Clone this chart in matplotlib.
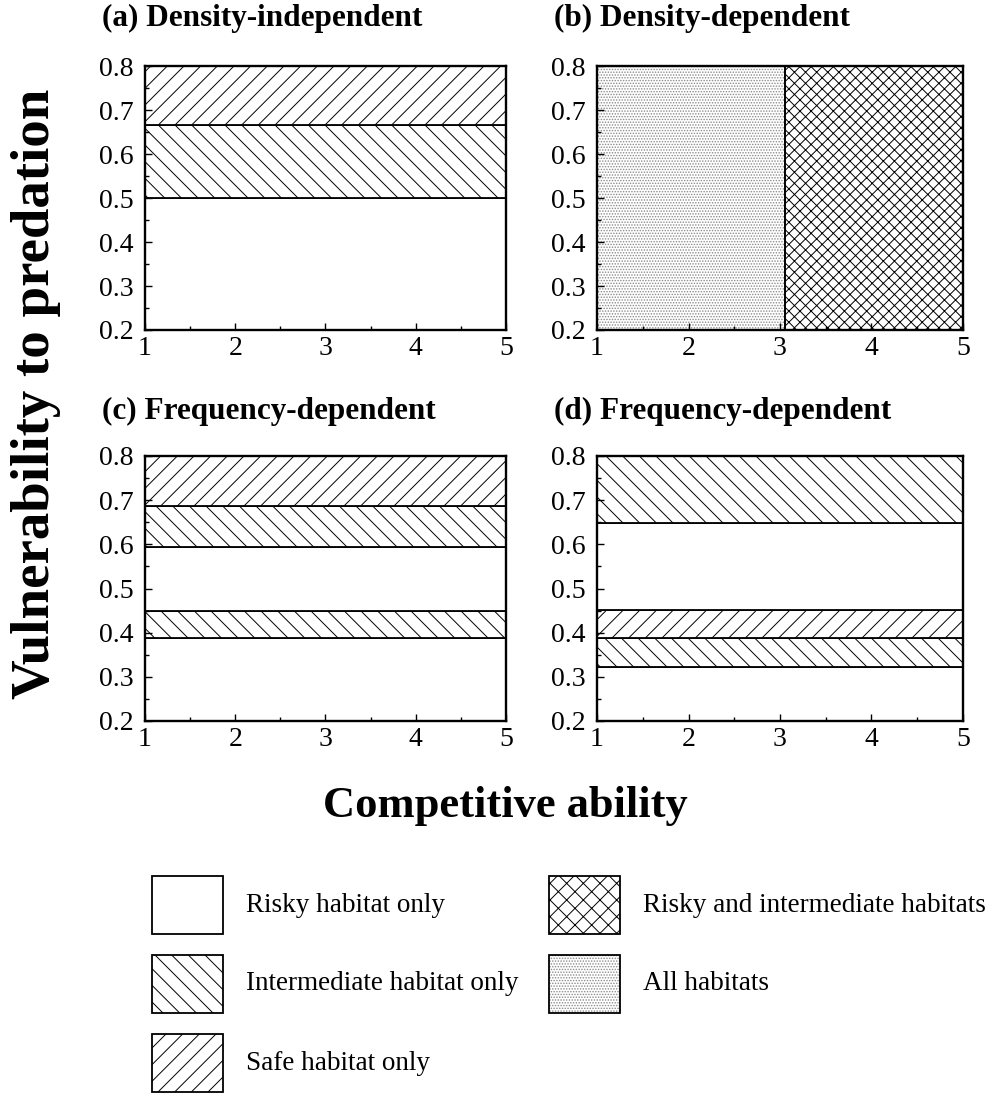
"""Habitat use vs competitive ability and vulnerability, four scenarios."""
import matplotlib
matplotlib.use("Agg")
import matplotlib.pyplot as plt
from matplotlib.patches import Rectangle
from matplotlib.ticker import MultipleLocator, FormatStrFormatter

plt.rcParams.update({"font.family": ["Liberation Serif", "DejaVu Serif"],
                     "hatch.linewidth": 0.7})

W, H = 1004, 1094

titles = ["(a) Density-independent", "(b) Density-dependent",
          "(c) Frequency-dependent", "(d) Frequency-dependent"]

# horizontal bands: boundaries (bottom -> top) and habitat used in each band
a_edges = [0.2, 0.5, 0.667, 0.8]
a_habitat = ["risky", "inter", "safe"]
c_edges = [0.2, 0.389, 0.449, 0.594, 0.686, 0.8]
c_habitat = ["risky", "inter", "risky", "inter", "safe"]
d_edges = [0.2, 0.322, 0.388, 0.451, 0.649, 0.8]
d_habitat = ["risky", "inter", "safe", "risky", "inter"]
# (b) split along competitive ability
b_edges = [1, 3.05, 5]
b_habitat = ["all", "riskinter"]

legend_keys = ["risky", "inter", "safe", "riskinter", "all"]
legend_labels = ["Risky habitat only", "Intermediate habitat only", "Safe habitat only",
                 "Risky and intermediate habitats", "All habitats"]

HATCH = {"risky": "", "inter": "\\\\", "safe": "//", "riskinter": "xxx", "all": "......"}

fig = plt.figure(figsize=(W/100, H/100), dpi=100)

# axes boxes in pixels: left, top, width, height
boxes = [(145, 66, 361, 264), (597, 66, 366, 264),
         (145, 456, 361, 265), (597, 456, 366, 265)]
title_gap = [40, 40, 37, 37]
axes = []
for (l, t, w, h) in boxes:
    ax = fig.add_axes([l/W, 1-(t+h)/H, w/W, h/H])
    axes.append(ax)

def band_panel(ax, edges, habs):
    for lo, hi, hb in zip(edges[:-1], edges[1:], habs):
        ax.axhspan(lo, hi, facecolor="white", edgecolor="black",
                   hatch=HATCH[hb], lw=1.3, zorder=1)

band_panel(axes[0], a_edges, a_habitat)
band_panel(axes[2], c_edges, c_habitat)
band_panel(axes[3], d_edges, d_habitat)

ax = axes[1]
for lo, hi, hb in zip(b_edges[:-1], b_edges[1:], b_habitat):
    if hb == "all":
        ax.axvspan(lo, hi, facecolor="white", edgecolor="#8a8a8a",
                   hatch=HATCH[hb], lw=0, zorder=1)
    else:
        ax.axvspan(lo, hi, facecolor="white", edgecolor="black",
                   hatch=HATCH[hb], lw=1.4, zorder=1)

for i, ax in enumerate(axes):
    ax.set_xlim(1, 5)
    ax.set_ylim(0.2, 0.8)
    ax.xaxis.set_major_locator(MultipleLocator(1))
    ax.xaxis.set_minor_locator(MultipleLocator(0.5))
    ax.yaxis.set_major_locator(MultipleLocator(0.1))
    ax.yaxis.set_minor_locator(MultipleLocator(0.05))
    ax.yaxis.set_major_formatter(FormatStrFormatter("%.1f"))
    ax.tick_params(which="both", direction="in", width=1, labelsize=20)
    ax.tick_params(axis="y", which="both", pad=8)
    ax.tick_params(axis="x", which="both", pad=4)
    ax.tick_params(which="major", length=5)
    ax.tick_params(which="minor", length=3)
    for s in ax.spines.values():
        s.set_linewidth(1.7)
        s.set_zorder(5)
    l, t, w, h = boxes[i]
    fig.text((l-43)/W, 1-(t-title_gap[i])/H, titles[i], fontsize=22.5,
             fontweight="bold", ha="left", va="baseline")

fig.text(36/W, 1-394/H, "Vulnerability to predation", rotation=90, fontsize=39.5,
         fontweight="bold", ha="center", va="center")
fig.text(505/W, 1-786/H, "Competitive ability", fontsize=32, fontweight="bold",
         ha="center", va="top")

# legend drawn on a pixel-space overlay
lg = fig.add_axes([0, 0, 1, 1])
lg.set_xlim(0, W)
lg.set_ylim(H, 0)
lg.axis("off")
col_x = [152, 549]
row_y = [876, 955, 1034]
for k, (key, lab) in enumerate(zip(legend_keys, legend_labels)):
    col, row = (0, k) if k < 3 else (1, k-3)
    x0, y0 = col_x[col], row_y[row]
    hatch = "xx" if key == "riskinter" else HATCH[key]
    ec = "#8a8a8a" if key == "all" else "black"
    lg.add_patch(Rectangle((x0, y0), 71, 58, facecolor="white", edgecolor=ec,
                           hatch=hatch, lw=0 if key == "all" else 1.3))
    if key == "all":
        lg.add_patch(Rectangle((x0, y0), 71, 58, facecolor="none",
                               edgecolor="black", lw=1.3))
    lg.text(x0+94, y0+29, lab, fontsize=19.5, ha="left", va="center")

fig.savefig("out.png", dpi=100)
